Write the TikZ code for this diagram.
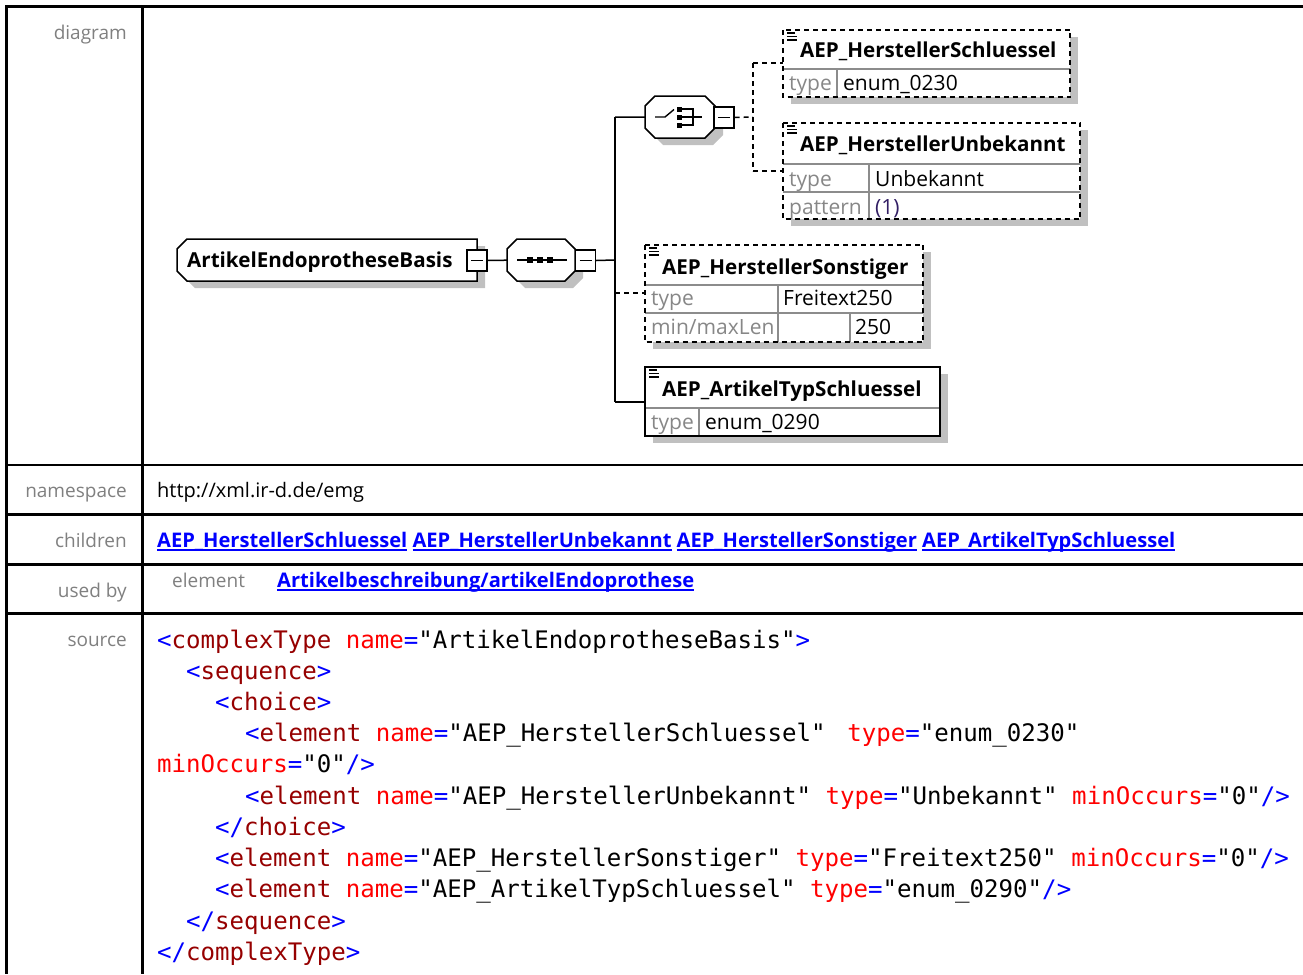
\documentclass[tikz,border=0pt]{standalone}
\usepackage{fontspec}
\setmainfont{Open Sans}
\setmonofont{DejaVu Sans Mono}
\definecolor{labelgray}{RGB}{128,128,128}
\definecolor{typegray}{RGB}{135,135,135}
\definecolor{sepgray}{RGB}{140,140,140}
\definecolor{shadowc}{RGB}{192,192,192}
\definecolor{linkblue}{RGB}{0,0,255}
\definecolor{xblue}{RGB}{0,0,255}
\definecolor{xtag}{RGB}{150,0,0}
\definecolor{xattr}{RGB}{255,0,0}
\definecolor{patc}{RGB}{50,30,100}
\newcommand\cB[1]{\textcolor{xblue}{#1}}
\newcommand\cT[1]{\textcolor{xtag}{#1}}
\newcommand\cA[1]{\textcolor{xattr}{#1}}
\newcommand\lnk[1]{\setbox0\hbox{#1}\rlap{\rule[-3.6pt]{\wd0}{1.8pt}}\box0\relax}
\begin{document}
\begin{tikzpicture}[x=1pt,y=-1pt,
  lbl/.style={anchor=base east, inner sep=0, text=labelgray, font=\fontsize{19}{22}\selectfont},
  val/.style={anchor=base west, inner sep=0, font=\fontsize{20}{23}\selectfont},
  lnkst/.style={anchor=base west, inner sep=0, text=linkblue, font=\bfseries\fontsize{20.1}{23}\selectfont},
  ttl/.style={anchor=base west, inner sep=0, font=\bfseries\fontsize{20.6}{24}\selectfont},
  rowk/.style={anchor=base west, inner sep=0, text=typegray, font=\fontsize{21}{24}\selectfont},
  rowv/.style={anchor=base west, inner sep=0, font=\fontsize{21}{24}\selectfont},
  code/.style={anchor=base west, inner sep=0, font=\ttfamily\fontsize{24.1}{28}\selectfont},
  conn/.style={line width=1.5pt},
  dconn/.style={line width=1.5pt, dash pattern=on 5pt off 4pt},
  tline/.style={line width=2.2pt},
  minusq/.style={draw, fill=white, line width=1.4pt, minimum width=20pt, minimum height=21pt, inner sep=0,
    path picture={\draw[line width=1.4pt] ([xshift=4pt]path picture bounding box.west) -- ([xshift=-4pt]path picture bounding box.east);}},
  hidden/.style={inner sep=0, anchor=north west},
  elborder/.style={line width=2pt, dash pattern=on 5pt off 4pt},
  sep/.style={draw=sepgray, line width=1.5pt},
]
\useasboundingbox (0,0) rectangle (1303,974);
\fill[white] (0,0) rectangle (1303,974);

% ---------- table ----------
\draw[tline] (1303,6.5) -- (6.5,6.5) -- (6.5,974);
\draw[tline] (142.5,6.5) -- (142.5,974);
\foreach \yy in {465,514.5,564.5,613.5} \draw[tline] (6.5,\yy) -- (1303,\yy);

\node[lbl] (ldiag) at (127,40) {diagram};
\node[lbl] (lns) at (127,497) {namespace};
\node[lbl] (lch) at (127,547) {children};
\node[lbl] (lused) at (127,597) {used by};
\node[lbl] (lsrc) at (127,646) {source};

\node[val] (ns) at (157,497) {http://xml.ir-d.de/emg};
\node[lnkst] (chl) at (157,547) {\lnk{AEP\_HerstellerSchluessel} \lnk{AEP\_HerstellerUnbekannt} \lnk{AEP\_HerstellerSonstiger} \lnk{AEP\_ArtikelTypSchluessel}};
\node[lbl, anchor=base west] (uel) at (172,587) {element};
\node[lnkst] (ulk) at (277,587) {\lnk{Artikelbeschreibung/artikelEndoprothese}};

% ---------- source ----------
\node[code] (c1) at (157,648) {\cB{<}\cT{complexType} \cA{name}\cB{=}"ArtikelEndoprotheseBasis"\cB{>}};
\node[code] (c2) at (186,679) {\cB{<}\cT{sequence}\cB{>}};
\node[code] (c3) at (215,710) {\cB{<}\cT{choice}\cB{>}};
\node[code] (c4) at (245,741) {\cB{<}\cT{element} \cA{name}\cB{=}"AEP\_HerstellerSchluessel"\hspace{0.3em} \cA{type}\cB{=}"enum\_0230"};
\node[code] (c5) at (157,772) {\cA{minOccurs}\cB{=}"0"\cB{/>}};
\node[code] (c6) at (245,804) {\cB{<}\cT{element} \cA{name}\cB{=}"AEP\_HerstellerUnbekannt" \cA{type}\cB{=}"Unbekannt" \cA{minOccurs}\cB{=}"0"\cB{/>}};
\node[code] (c7) at (215,835) {\cB{</}\cT{choice}\cB{>}};
\node[code] (c8) at (215,866) {\cB{<}\cT{element} \cA{name}\cB{=}"AEP\_HerstellerSonstiger" \cA{type}\cB{=}"Freitext250" \cA{minOccurs}\cB{=}"0"\cB{/>}};
\node[code] (c9) at (215,897) {\cB{<}\cT{element} \cA{name}\cB{=}"AEP\_ArtikelTypSchluessel" \cA{type}\cB{=}"enum\_0290"\cB{/>}};
\node[code] (c10) at (186,929) {\cB{</}\cT{sequence}\cB{>}};
\node[code] (c11) at (157,960) {\cB{</}\cT{complexType}\cB{>}};

% ---------- diagram: shadows ----------
\begin{scope}[shift={(8,7)}]
\fill[shadowc] (177,249) -- (187,239) -- (477,239) -- (477,281) -- (187,281) -- (177,271) -- cycle;
\fill[shadowc] (507,249) -- (517,239) -- (565,239) -- (575,249) -- (575,271) -- (565,281) -- (517,281) -- (507,271) -- cycle;
\fill[shadowc] (645,106) -- (655,96) -- (705,96) -- (715,106) -- (715,128) -- (705,138) -- (655,138) -- (645,128) -- cycle;
\fill[shadowc] (783,30) rectangle (1070,97);
\fill[shadowc] (783,123) rectangle (1080,219);
\fill[shadowc] (645,245) rectangle (923,342);
\fill[shadowc] (645,367) rectangle (940,436);
\end{scope}

% ---------- complexType box ----------
\draw[fill=white, line width=1.5pt] (177,249) -- (187,239) -- (477,239) -- (477,281) -- (187,281) -- (177,271) -- cycle;
\node[hidden, minimum width=300pt, minimum height=42pt] (basis) at (177,239) {};
\node[ttl] (basist) at (187,267) {ArtikelEndoprotheseBasis};
\node[minusq] (basisq) at (477,260.5) {};

% ---------- sequence ----------
\draw[fill=white, line width=1.5pt] (507,249) -- (517,239) -- (565,239) -- (575,249) -- (575,271) -- (565,281) -- (517,281) -- (507,271) -- cycle;
\node[hidden, minimum width=68pt, minimum height=42pt] (seq) at (507,239) {};
\draw[line width=1.4pt] (517,260) -- (567,260);
\foreach \sx in {530,540,550} \fill (\sx-3,257) rectangle (\sx+3,263);
\node[minusq] (seqq) at (585.5,260.5) {};

% ---------- choice ----------
\draw[fill=white, line width=1.5pt] (645,106) -- (655,96) -- (705,96) -- (715,106) -- (715,128) -- (705,138) -- (655,138) -- (645,128) -- cycle;
\node[hidden, minimum width=70pt, minimum height=42pt] (ch) at (645,96) {};
\draw[line width=1.4pt] (655,117) -- (665,117) -- (674,109.5);
\fill (677,106.5) rectangle (682,111.5);
\fill (677,114.5) rectangle (682,119.5);
\fill (677,122.5) rectangle (682,127.5);
\draw[line width=1.4pt] (682,109) -- (693,109) -- (693,125) -- (682,125);
\draw[line width=1.4pt] (682,117) -- (702,117);
\node[minusq] (chq) at (724,117.5) {};

% ---------- element boxes (fill, separators) ----------
\node[hidden, minimum width=287pt, minimum height=67pt] (e1) at (783,30) {};
\node[hidden, minimum width=297pt, minimum height=96pt] (e2) at (783,123) {};
\node[hidden, minimum width=278pt, minimum height=97pt] (e3) at (645,245) {};
\node[hidden, minimum width=295pt, minimum height=69pt] (e4) at (645,367) {};
\foreach \n in {e1,e2,e3,e4} \fill[white] (\n.north west) rectangle (\n.south east);

\draw[sep] (783,69) -- (1070,69);
\draw[sep] (837,69) -- (837,97);
\draw[sep] (783,164) -- (1080,164);
\draw[sep] (783,192) -- (1080,192);
\draw[sep] (869,164) -- (869,219);
\draw[sep] (645,285) -- (923,285);
\draw[sep] (645,313) -- (923,313);
\draw[sep] (778,285) -- (778,342);
\draw[sep] (850,313) -- (850,342);
\draw[sep] (645,408) -- (940,408);
\draw[sep] (699,408) -- (699,436);

% icons
\foreach \ix/\iy in {783/30,783/123,645/245,645/367}{
  \draw[line width=1.3pt] (\ix+4,\iy+3) -- (\ix+12,\iy+3);
  \draw[line width=1.3pt] (\ix+4,\iy+6.5) -- (\ix+14,\iy+6.5);
  \draw[line width=1.3pt] (\ix+4,\iy+10) -- (\ix+14,\iy+10);
}

% texts
\node[ttl] (e1t) at (800,57) {AEP\_HerstellerSchluessel};
\node[rowk] (e1k) at (789,90) {type};
\node[rowv] (e1v) at (843,90) {enum\_0230};
\node[ttl] (e2t) at (800,151) {AEP\_HerstellerUnbekannt};
\node[rowk] (e2k) at (789,186) {type};
\node[rowv] (e2v) at (875,186) {Unbekannt};
\node[rowk] (e2k2) at (789,214) {pattern};
\node[rowv, text=patc] (e2v2) at (875,214) {(1)};
\node[ttl] (e3t) at (662,274) {AEP\_HerstellerSonstiger};
\node[rowk] (e3k) at (651,305) {type};
\node[rowv] (e3v) at (783,305) {Freitext250};
\node[rowk] (e3k2) at (651,334) {min/maxLen};
\node[rowv] (e3v2) at (855,334) {250};
\node[ttl] (e4t) at (662,396) {AEP\_ArtikelTypSchluessel};
\node[rowk] (e4k) at (651,429) {type};
\node[rowv] (e4v) at (705,429) {enum\_0290};

% borders
\draw[elborder] (e1.north west) rectangle (e1.south east);
\draw[elborder] (e2.north west) rectangle (e2.south east);
\draw[elborder] (e3.north west) rectangle (e3.south east);
\draw[line width=2pt] (e4.north west) rectangle (e4.south east);

% ---------- connectors ----------
\coordinate (busT) at (615,117);
\coordinate (busM) at (615,260);
\coordinate (busS) at (615,293);
\coordinate (busB) at (615,402);
\coordinate (cj) at (753,117);
\coordinate (cjT) at (753,63);
\coordinate (cjB) at (753,171);
\draw[conn] (basisq.east) -- (seq.west);
\draw[conn] (seqq.east) -- (busM);
\draw[conn] (busT) -- (busB);
\draw[conn] (busT) -- (ch.west);
\draw[dconn] (busS) -- (e3.west |- busS);
\draw[conn] (busB) -- (e4.west |- busB);
\draw[dconn] (chq.east) -- (cj);
\draw[dconn] (cjT) -- (cjB);
\draw[dconn] (cjT) -- (e1.west |- cjT);
\draw[dconn] (cjB) -- (e2.west |- cjB);
\end{tikzpicture}
\end{document}
